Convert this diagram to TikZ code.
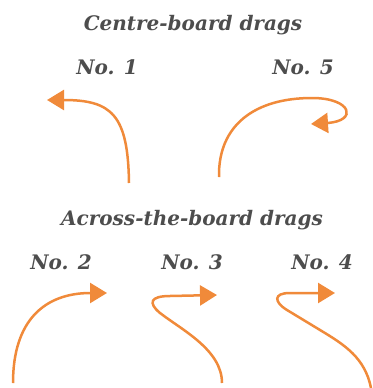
\documentclass[tikz,border=0pt]{standalone}
\usepackage{fontspec}
\setmainfont{DejaVu Serif}
\usetikzlibrary{arrows.meta}
\definecolor{dragorange}{RGB}{240,138,58}
\definecolor{labelgray}{RGB}{77,77,77}
\begin{document}
\begin{tikzpicture}[x=1pt,y=-1pt,
  lbl/.style={text=labelgray,font=\fontsize{20}{24}\selectfont\bfseries\itshape,inner sep=0pt},
  drag/.style={draw=dragorange,line width=2.5pt,-{Triangle[length=17pt,width=20pt]}}]
\useasboundingbox (0,0) rectangle (372,388);
% labels
\node[lbl] (t1) at (193,25) {Centre-board drags};
\node[lbl] (n1) at (107,67) {No. 1};
\node[lbl] (n5) at (303,67) {No. 5};
\node[lbl] (t2) at (192,220) {Across-the-board drags};
\node[lbl] (n2) at (61,262) {No. 2};
\node[lbl] (n3) at (192,262) {No. 3};
\node[lbl] (n4) at (322,262) {No. 4};
% arrow ends
\coordinate (a1s) at (129,183);
\coordinate (a1e) at (47,100);
\coordinate (a5s) at (219,177);
\coordinate (a5e) at (311,124);
\coordinate (a2s) at (13,383);
\coordinate (a2e) at (107,293);
\coordinate (a3s) at (222,383);
\coordinate (a3e) at (217,295);
\coordinate (a4s) at (371,388);
\coordinate (a4e) at (335,293);
% arrows
\draw[drag] (a1s) .. controls (128,115) and (112,100) .. (a1e);
\draw[drag] (a5s) .. controls (218,125) and (255,98) .. (312,98)
  .. controls (352,98) and (358,121) .. (a5e);
\draw[drag] (a2s) .. controls (13,320) and (45,293) .. (a2e);
\draw[drag] (a3s) .. controls (222,350) and (182,330) .. (160,313)
  .. controls (148,303) and (150,296) .. (170,296) -- (a3e);
\draw[drag] (a4s) .. controls (365,358) and (345,345) .. (320,330)
  -- (287,310) .. controls (274,302) and (273,293) .. (290,293) -- (a4e);
\end{tikzpicture}
\end{document}
